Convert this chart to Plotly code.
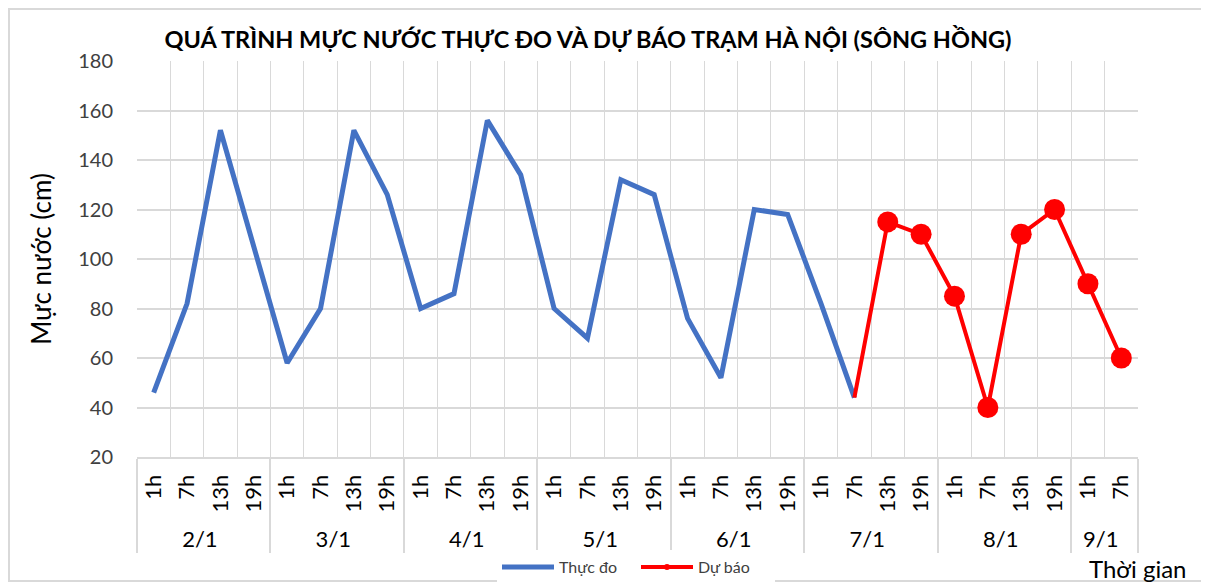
import plotly.graph_objects as go

# ---- data ----
days = ["2/1"] * 4 + ["3/1"] * 4 + ["4/1"] * 4 + ["5/1"] * 4 + ["6/1"] * 4 + ["7/1"] * 4 + ["8/1"] * 4 + ["9/1"] * 2
hours = ["1h", "7h", "13h", "19h"] * 7 + ["1h", "7h"]

thuc_do = [46, 82, 152, 105,
           58, 80, 152, 126,
           80, 86, 156, 134,
           80, 68, 132, 126,
           76, 52, 120, 118,
           82, 44, None, None,
           None, None, None, None,
           None, None]
du_bao = [None, None, None, None,
          None, None, None, None,
          None, None, None, None,
          None, None, None, None,
          None, None, None, None,
          None, 44, 115, 110,
          85, 40, 110, 120,
          90, 60]

title_text = "QUÁ TRÌNH MỰC NƯỚC THỰC ĐO VÀ DỰ BÁO TRẠM HÀ NỘI (SÔNG HỒNG)"
y_title = "Mực nước (cm)"
x_title = "Thời gian"
y_ticks = [20, 40, 60, 80, 100, 120, 140, 160, 180]

FONT = "Lato"
BLUE = "#4472C4"
RED = "#FF0000"
GRID = "#D9D9D9"
TXT = "#404040"

W, H = 1209, 600                     # page body adds an 8px offset; bottom rows fall outside the window
ML, MT, PW, PH = 129, 53, 1001, 396   # plot area in figure pixels

n = len(hours)
first_fc = next(i for i, v in enumerate(du_bao) if v is not None)
red_sizes = [0 if i == first_fc else 21 for i in range(n)]

fig = go.Figure()
fig.add_trace(go.Scatter(
    x=[days, hours], y=thuc_do, name="Thực đo", mode="lines",
    line=dict(color=BLUE, width=5), connectgaps=False,
))
fig.add_trace(go.Scatter(
    x=[days, hours], y=du_bao, name="Dự báo", mode="lines+markers", showlegend=False,
    line=dict(color=RED, width=4),
    marker=dict(color=RED, size=red_sizes, opacity=1, line=dict(width=0)),
))
# legend entry for the forecast series (small marker like the original)
fig.add_trace(go.Scatter(
    x=[days[:1], hours[:1]], y=[None], name="Dự báo", mode="lines+markers",
    line=dict(color=RED, width=4), marker=dict(color=RED, size=6),
))
# helper trace for boundary gridlines
fig.add_trace(go.Scatter(
    x=[0], y=[None], xaxis="x2", showlegend=False, hoverinfo="skip", mode="markers",
))

def px_x(x):
    return (x - ML) / PW

def px_y(y):
    return (MT + PH - y) / PH

fig.update_layout(
    width=W, height=H,
    margin=dict(l=ML, r=W - ML - PW, t=MT, b=H - MT - PH),
    paper_bgcolor="white", plot_bgcolor="white",
    font=dict(family=FONT, color=TXT),
    title=dict(text="<b>" + title_text + "</b>", x=580 / W, xanchor="center",
               y=1 - 32 / H, yanchor="middle", font=dict(size=23.5, color="black", family=FONT)),
    xaxis=dict(type="multicategory", range=[-0.5, n - 0.5], automargin=False,
               showgrid=True, gridcolor=GRID, gridwidth=1,
               tickangle=-90, tickfont=dict(size=22, color="black", family=FONT),
               showline=True, linecolor=GRID, linewidth=2, ticks="",
               ticklabelstandoff=7,
               dividercolor=GRID, dividerwidth=2, showdividers=True),
    xaxis2=dict(overlaying="x", range=[-0.5, n - 0.5], tick0=-0.5, dtick=1,
                showgrid=True, gridcolor=GRID, gridwidth=1, showticklabels=False,
                zeroline=False, side="bottom", automargin=False),
    yaxis=dict(range=[20, 180], tickvals=y_ticks, showgrid=True, gridcolor=GRID,
               gridwidth=1.5, zeroline=False, automargin=False,
               tickfont=dict(size=20, color=TXT, family=FONT),
               ticks="", ticklabelstandoff=23,
               title=dict(text=y_title, font=dict(size=26, color="black", family=FONT), standoff=19)),
    legend=dict(orientation="h", x=px_x(628), xanchor="center", y=px_y(559), yanchor="middle",
                font=dict(size=16, color=TXT, family=FONT), itemwidth=52, entrywidth=72),
    showlegend=True,
)

fig.add_annotation(text=x_title, xref="paper", yref="paper", x=px_x(1130), y=px_y(560),
                   xanchor="center", yanchor="middle", showarrow=False,
                   font=dict(size=24, color="black", family=FONT))

# chart border
fig.add_shape(type="rect", xref="paper", yref="paper",
              x0=px_x(1), x1=px_x(1199), y0=px_y(573), y1=px_y(1),
              line=dict(color="#D9D9D9", width=2), layer="below")

fig.write_html("out.html")
